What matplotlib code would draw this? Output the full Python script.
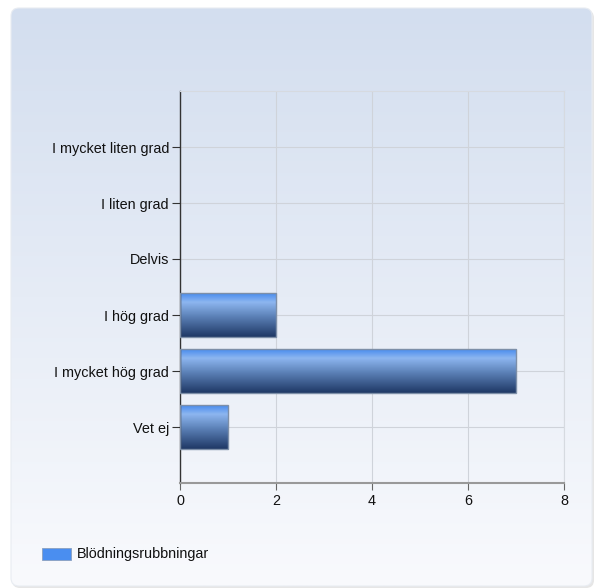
import numpy as np
import matplotlib
matplotlib.use("Agg")
import matplotlib.pyplot as plt
from matplotlib.patches import FancyBboxPatch, Rectangle
from matplotlib.colors import LinearSegmentedColormap

categories = ["I mycket liten grad", "I liten grad", "Delvis", "I hög grad", "I mycket hög grad", "Vet ej"]
values = [0, 0, 0, 2, 7, 1]
series_name = "Blödningsrubbningar"
xticks = [0, 2, 4, 6, 8]

plt.rcParams['font.family'] = ['Liberation Sans', 'DejaVu Sans']

W, H = 594, 588
fig = plt.figure(figsize=(W/100, H/100), dpi=100)

# background panel with gradient and rounded corners
bg = fig.add_axes([0, 0, 1, 1])
bg.axis('off')
grad = np.linspace(0, 1, 256).reshape(-1, 1)
bgcmap = LinearSegmentedColormap.from_list("bg", ["#d3deef", "#e6ecf6", "#f9fafd"])
sh = FancyBboxPatch((12, 10), 582, 578, boxstyle="round,pad=0,rounding_size=8",
                    facecolor="#e6e6e6", edgecolor="none", zorder=0.2)
bg.add_patch(sh)
panel = FancyBboxPatch((11, 8), 581, 578, boxstyle="round,pad=0,rounding_size=8",
                       facecolor="none", edgecolor="#e8ecf2", lw=0.8, zorder=2)
bg.add_patch(panel)
im = bg.imshow(grad, cmap=bgcmap, aspect='auto', extent=[11, 592, 586, 8], zorder=1)
im.set_clip_path(panel)
bg.set_xlim(0, W); bg.set_ylim(H, 0)

# plot area: x 180..564, y 91..483
ax = fig.add_axes([180/W, 1-483/H, (564-180)/W, (483-91)/H])
ax.patch.set_alpha(0)
n = len(categories)
ypos = np.arange(n)
ax.set_yticks(ypos)
ax.set_yticklabels(categories, fontsize=10.4, color="#111111")
ax.set_xticks(xticks)
ax.set_xticklabels([str(t) for t in xticks], fontsize=10.4, color="#111111")
ax.grid(True, color="#cfd3da", lw=0.8)
ax.set_axisbelow(True)
for s in ["top", "right"]:
    ax.spines[s].set_color("#d6dae0"); ax.spines[s].set_linewidth(0.8)
ax.spines["left"].set_color("#333333"); ax.spines["left"].set_linewidth(1.0)
ax.spines["bottom"].set_color("#999999"); ax.spines["bottom"].set_linewidth(1.5)
ax.tick_params(axis='y', length=6, width=0.8, color="#333333", pad=2)
ax.tick_params(axis='x', length=5, width=0.8, color="#666666", pad=3)

barcmap = LinearSegmentedColormap.from_list(
    "bar", [(0, "#3f86ee"), (0.22, "#8db6f0"), (0.55, "#5b80b6"), (1, "#1e3865")])
bh = 0.8
bgrad = np.linspace(0, 1, 128).reshape(-1, 1)
for y, v in zip(ypos, values):
    if v <= 0:
        continue
    r = Rectangle((0, y - bh/2), v, bh, facecolor="none", edgecolor="#7d8fa8", lw=1.0, zorder=3)
    ax.add_patch(r)
    bi = ax.imshow(bgrad, cmap=barcmap, aspect='auto',
                   extent=[0, v, y + bh/2, y - bh/2], zorder=2)
    bi.set_clip_path(r)
ax.set_xlim(0, 8)
ax.set_ylim(n, -1)

# legend
bg.add_patch(Rectangle((42, 548), 29, 12, facecolor="#4a8ef0", edgecolor="#8aa0c0", lw=0.6, zorder=3))
bg.text(77, 554, series_name, fontsize=10.4, va='center', ha='left', color="#111111", zorder=3)

fig.savefig("out.png", dpi=100)
